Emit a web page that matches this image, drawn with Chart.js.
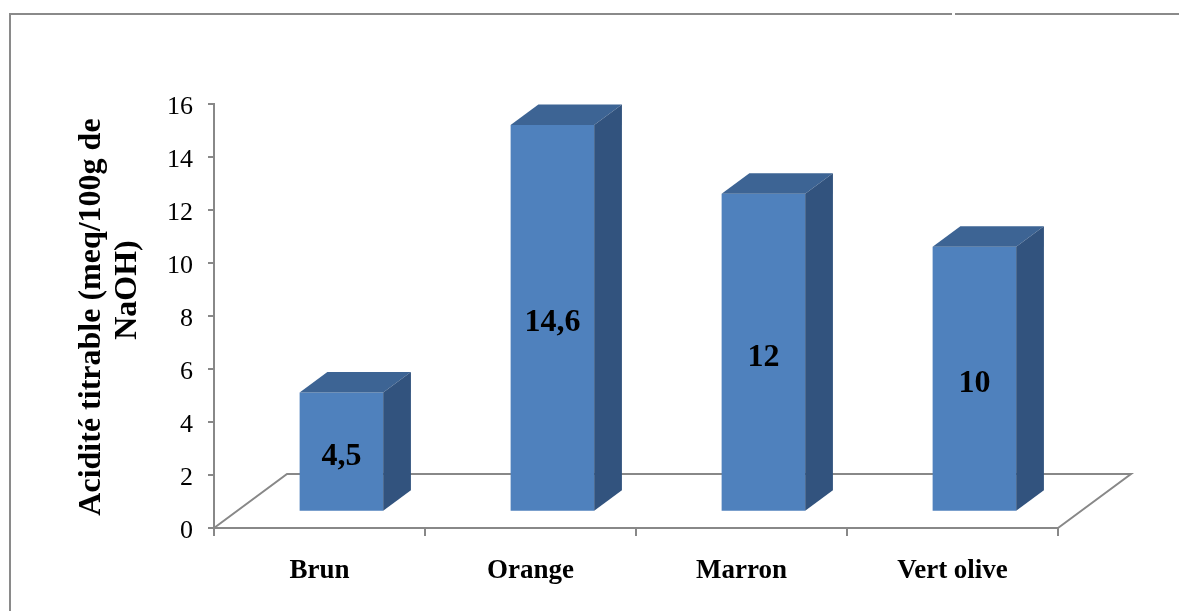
<!DOCTYPE html>
<html>
<head>
<meta charset="utf-8">
<script src="https://cdn.jsdelivr.net/npm/chart.js@4.4.1/dist/chart.umd.min.js"></script>
<style>
  html, body { margin: 0; padding: 0; background: #fff; }
  canvas { display: block; }
</style>
</head>
<body>
<canvas id="chart" width="1179" height="611"></canvas>
<script>
// Data
const categories = ['Brun', 'Orange', 'Marron', 'Vert olive'];
const acidite = [4.5, 14.6, 12, 10];
const valueLabels = ['4,5', '14,6', '12', '10'];
const yTicks = [0, 2, 4, 6, 8, 10, 12, 14, 16];
const yTitleLines = ['Acidité titrable (meq/100g de', 'NaOH)'];

// Styling
const SERIF = '"Liberation Serif", "Times New Roman", serif';
const AXIS = '#888888';
const FRONT = '#4f81bd';
const TOP = '#3d6494';
const SIDE = '#32537e';

// Pseudo-3D geometry: floor depth vector, bar position and thickness along it
const FLOOR_DX = 73, FLOOR_DY = -54;
const BAR_SHIFT = 0.3;
const BAR_DEPTH = 0.38;

const box3d = {
  id: 'box3d',
  beforeDraw(chart) {
    // outer frame (left and top edges)
    const ctx = chart.ctx;
    ctx.save();
    ctx.strokeStyle = '#8a8a8a';
    ctx.lineWidth = 2;
    ctx.beginPath();
    ctx.moveTo(10, 611); ctx.lineTo(10, 14); ctx.lineTo(952, 14);
    ctx.moveTo(955, 14); ctx.lineTo(1179, 14);
    ctx.stroke();
    ctx.restore();
  },
  beforeDatasetsDraw(chart) {
    // floor: side edges and back edge (front edge is the x-axis line)
    const { ctx, chartArea: a } = chart;
    ctx.save();
    ctx.strokeStyle = AXIS;
    ctx.lineWidth = 2;
    ctx.beginPath();
    ctx.moveTo(a.left, a.bottom);
    ctx.lineTo(a.left + FLOOR_DX, a.bottom + FLOOR_DY);
    ctx.lineTo(a.right + FLOOR_DX, a.bottom + FLOOR_DY);
    ctx.lineTo(a.right, a.bottom);
    ctx.stroke();
    ctx.restore();
  },
  beforeDatasetDraw(chart) {
    const ctx = chart.ctx;
    ctx.save();
    ctx.translate(FLOOR_DX * BAR_SHIFT, FLOOR_DY * BAR_SHIFT);
  },
  afterDatasetDraw(chart, args) {
    const ctx = chart.ctx;
    const ddx = FLOOR_DX * BAR_DEPTH, ddy = FLOOR_DY * BAR_DEPTH;
    args.meta.data.forEach((bar, i) => {
      const { x, y, base, width } = bar.getProps(['x', 'y', 'base', 'width'], true);
      const l = x - width / 2, r = x + width / 2;
      // top face
      ctx.fillStyle = TOP;
      ctx.beginPath();
      ctx.moveTo(l, y); ctx.lineTo(l + ddx, y + ddy);
      ctx.lineTo(r + ddx, y + ddy); ctx.lineTo(r, y);
      ctx.closePath(); ctx.fill();
      // side face
      ctx.fillStyle = SIDE;
      ctx.beginPath();
      ctx.moveTo(r, y); ctx.lineTo(r + ddx, y + ddy);
      ctx.lineTo(r + ddx, base + ddy); ctx.lineTo(r, base);
      ctx.closePath(); ctx.fill();
      // value label on the front face
      ctx.fillStyle = '#000';
      ctx.font = 'bold 32px ' + SERIF;
      ctx.textAlign = 'center';
      ctx.textBaseline = 'middle';
      ctx.fillText(valueLabels[i], x, (y + base) / 2 + 5);
    });
    ctx.restore();
  },
  afterDraw(chart) {
    // y-axis title, two lines rotated
    const ctx = chart.ctx;
    ctx.save();
    ctx.fillStyle = '#000';
    ctx.font = 'bold 32px ' + SERIF;
    ctx.textAlign = 'center';
    ctx.textBaseline = 'middle';
    ctx.translate(92, 317);
    ctx.rotate(-Math.PI / 2);
    ctx.fillText(yTitleLines[0], 0, 0);
    ctx.fillText(yTitleLines[1], 27, 36);
    ctx.restore();
  }
};

new Chart(document.getElementById('chart'), {
  type: 'bar',
  data: {
    labels: categories,
    datasets: [{
      data: acidite,
      backgroundColor: FRONT,
      borderWidth: 0,
      barPercentage: 0.396,
      categoryPercentage: 1,
      clip: false
    }]
  },
  options: {
    responsive: false,
    animation: false,
    events: [],
    layout: { padding: { top: 104, right: 121, left: 0, bottom: 0 } },
    plugins: { legend: { display: false }, tooltip: { enabled: false } },
    scales: {
      x: {
        ticks: { font: { family: SERIF, size: 27, weight: 'bold' }, color: '#000', padding: 19 },
        grid: { display: true, drawOnChartArea: false, tickLength: 8, color: AXIS, lineWidth: 2, offset: true },
        border: { display: true, color: AXIS, width: 2 },
        afterFit: s => { s.height = 83; }
      },
      y: {
        min: 0, max: 16,
        afterBuildTicks: s => { s.ticks = yTicks.map(v => ({ value: v })); },
        ticks: { font: { family: SERIF, size: 26 }, color: '#000', padding: 15, labelOffset: 3 },
        grid: { display: true, drawOnChartArea: false, tickLength: 6, color: AXIS, lineWidth: 2 },
        border: { display: true, color: AXIS, width: 2 },
        afterFit: s => { s.width = 214; }
      }
    }
  },
  plugins: [box3d]
});
</script>
</body>
</html>
